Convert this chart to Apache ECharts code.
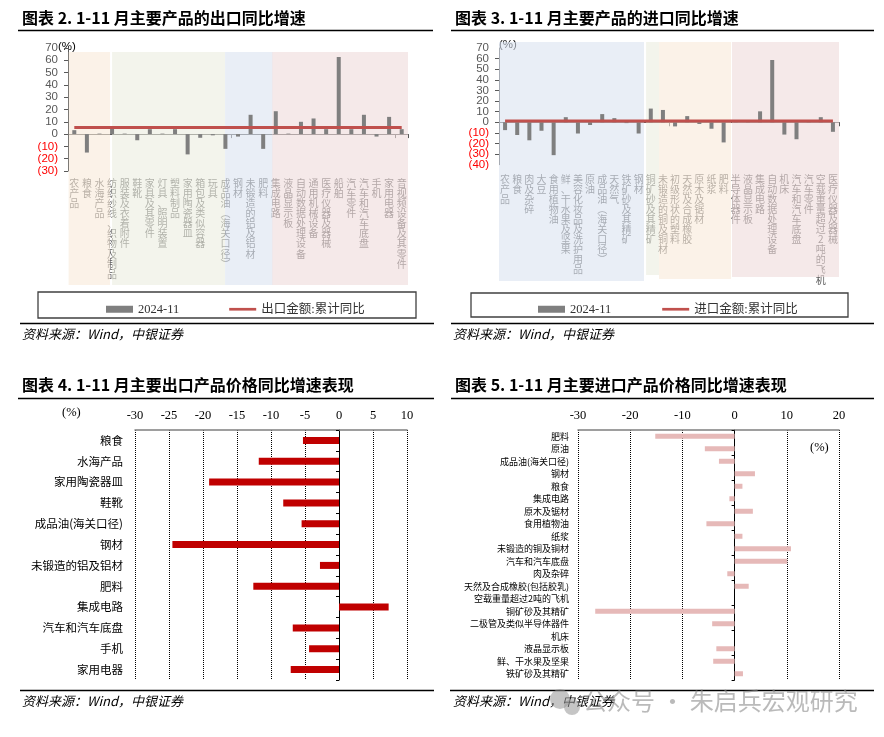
<!DOCTYPE html>
<html><head><meta charset="utf-8">
<script src="https://cdn.jsdelivr.net/npm/echarts@6/dist/echarts.min.js"></script>
<style>html,body{margin:0;padding:0;background:#fff}#c{width:884px;height:737px}</style>
</head><body><div id="c"></div>
<script>
// ---------- data ----------
const exportCats = ['农产品','粮食','水海产品','纺织纱线、织物及制品','服装及衣着附件','鞋靴','家具及其零件','灯具、照明装置','塑料制品','家用陶瓷器皿','箱包及类似容器','玩具','成品油(海关口径)','钢材','未锻造的铝及铝材','肥料','集成电路','液晶显示板','自动数据处理设备','通用机械设备','医疗仪器及器械','船舶','汽车零件','汽车和汽车底盘','手机','家用电器','音视频设备及其零件'];
const exportYoY = [3.2,-15,0.4,5,0.4,-5,4,0.4,4,-16.5,-3,-1,-12,-2,15.7,-12,18.6,0.4,10,12.7,4,62.7,4,15.7,-2,14,4];
const exportCum = [5.4,5.4,5.4,5.4,5.4,5.4,5.4,5.4,5.4,5.4,5.4,5.4,5.4,5.4,5.4,5.4,5.4,5.4,5.4,5.4,5.4,5.4,5.4,5.4,5.4,5.4,5.4];
const exportBands = [[-0.45,2.84],[3.0,11.97],[11.97,15.76],[15.72,26.6]];

const importCats = ['农产品','粮食','肉及杂碎','大豆','食用植物油','鲜、干水果及坚果','美容化妆品及洗护用品','原油','成品油(海关口径)','天然气','铁矿砂及其精矿','钢材','铜矿砂及其精矿','未锻造的铜及铜材','初级形状的塑料','天然及合成橡胶','原木及锯材','纸浆','肥料','半导体器件','液晶显示板','集成电路','自动数据处理设备','机床','汽车和汽车底盘','汽车零件','空载重量超过2吨的飞机','医疗仪器及器械'];
const importYoY = [-7.4,-12,-17,-8,-31,4.8,-10.6,-2.6,7.7,3.9,-0.8,-10.6,12.9,11.6,-3.9,5.8,-1.6,-6.1,-19,0.3,0.3,10.3,58.7,-11.6,-16,0.3,4.8,-9];
const importCum = [1.3,1.3,1.3,1.3,1.3,1.3,1.3,1.3,1.3,1.3,1.3,1.3,1.3,1.3,1.3,1.3,1.3,1.3,1.3,1.3,1.3,1.3,1.3,1.3,1.3,1.3,1.3,1.3];
const importBands = [[-0.5,11.44],[11.61,12.68],[12.68,18.61],[18.69,27.5]];

const exPriceCats = ['粮食','水海产品','家用陶瓷器皿','鞋靴','成品油(海关口径)','钢材','未锻造的铝及铝材','肥料','集成电路','汽车和汽车底盘','手机','家用电器'];
const exPriceVals = [-5.3,-11.8,-19.1,-8.2,-5.5,-24.5,-2.8,-12.6,7.3,-6.8,-4.4,-7.1];

const imPriceCats = ['肥料','原油','成品油(海关口径)','钢材','粮食','集成电路','原木及锯材','食用植物油','纸浆','未锻造的铜及铜材','汽车和汽车底盘','肉及杂碎','天然及合成橡胶(包括胶乳)','空载重量超过2吨的飞机','铜矿砂及其精矿','二极管及类似半导体器件','机床','液晶显示板','鲜、干水果及坚果','铁矿砂及其精矿'];
const imPriceVals = [-15.2,-5.7,-3.0,3.9,1.5,-1.0,3.5,-5.4,1.5,10.8,10.1,-1.4,2.7,0,-26.7,-4.3,0,-3.5,-4.1,1.6];

// ---------- helpers ----------
const CJK = "'Noto Sans CJK SC'";
const vert = s => s.replace(/\(/g,'︵').replace(/\)/g,'︶').split('').join('\n');
const yFmt = v => v < 0 ? '{n|(' + (-v) + ')}' : '{p|' + v + '}';
const cOr = 'rgba(248,233,217,0.6)', cGr = 'rgba(235,237,223,0.6)', cBl = 'rgba(218,227,240,0.6)', cRd = 'rgba(238,218,218,0.6)';
const bandColors = [cOr, cGr, cBl, cRd];
const bandColorsR = [cBl, cGr, cOr, cRd];
const bandBottomsR = [239,233,237,235];

const chart = echarts.init(document.getElementById('c'));

const catLineAxis = (gi, cats) => ({
  type:'category', gridIndex:gi, data:cats, position:'bottom',
  axisLine:{onZero:true, lineStyle:{color:'#595959', width:1}},
  axisTick:{show:true, length:4, lineStyle:{color:'#595959'}},
  axisLabel:{show:false}, splitLine:{show:false}
});
const catLabelAxis = (gi, cats, margin) => ({
  type:'category', gridIndex:gi, data:cats, position:'bottom',
  axisLine:{show:false, onZero:false}, axisTick:{show:false},
  axisLabel:{show:true, interval:0, margin:margin, formatter:vert, fontFamily:CJK, fontSize:10, lineHeight:10.1, color:'#595959', verticalAlign:'top'}
});
const yLabelStyle = {
  fontFamily:'Liberation Sans', fontSize:11.5, color:'#595959', margin:10,
  rich:{n:{color:'#FF0000', fontFamily:'Liberation Sans', fontSize:11.5},
        p:{color:'#595959', fontFamily:'Liberation Sans', fontSize:11.5}}
};
const valYAxis = (gi, mn, mx, showEnds) => ({
  type:'value', gridIndex:gi, min:mn, max:mx, interval:10, position:'left',
  axisLine:{show:true, lineStyle:{color:'#595959'}},
  axisTick:{show:true, length:4, lineStyle:{color:'#595959'}},
  splitLine:{show:false},
  axisLabel:Object.assign({formatter:yFmt, showMinLabel:showEnds, showMaxLabel:showEnds}, yLabelStyle)
});
// labels only for the two end ticks (avoids automatic overlap hiding of the inner ticks)
const endYAxis = (gi, mn, mx) => ({
  type:'value', gridIndex:gi, min:mn, max:mx, interval:10, position:'left',
  axisLine:{show:false, onZero:false}, axisTick:{show:false}, splitLine:{show:false},
  axisLabel:Object.assign({formatter:v => (v === mn || v === mx) ? yFmt(v) : '', showMinLabel:true, showMaxLabel:true}, yLabelStyle)
});
const hidVal = (gi, mn, mx, inv) => ({type:'value', gridIndex:gi, min:mn, max:mx, inverse:!!inv, show:false});
const priceXAxis = (gi, mn, mx, iv) => ({
  type:'value', gridIndex:gi, position:'top', min:mn, max:mx, interval:iv,
  axisLine:{show:true, onZero:false, lineStyle:{color:'#7f7f7f', width:1.5}},
  axisTick:{show:false},
  splitLine:{show:true, lineStyle:{type:'dotted', color:'#000', width:1}},
  axisLabel:{fontFamily:'Liberation Serif', fontSize:12.5, color:'#000', margin:8, showMinLabel:true, showMaxLabel:true}
});
const priceYLine = (gi, cats) => ({
  type:'category', gridIndex:gi, data:cats, inverse:true, position:'left',
  axisLine:{onZero:true, lineStyle:{color:'#000', width:1}},
  axisTick:{show:true, length:3, lineStyle:{color:'#000'}},
  axisLabel:{show:false}
});
const priceYLabel = (gi, cats, fs, margin) => ({
  type:'category', gridIndex:gi, data:cats, inverse:true, position:'left',
  axisLine:{show:false, onZero:false}, axisTick:{show:false},
  axisLabel:{interval:0, fontFamily:CJK, fontSize:fs, color:'#000', margin:margin}
});

const option = {
  animation:false,
  backgroundColor:'#fff',
  grid:[
    {left:68, width:340, top:48, height:123},
    {left:68, width:340, top:52, height:233},
    {left:499, width:340, top:48, height:116.7},
    {left:499, width:340, top:42, height:239},
    {left:135, width:272, top:430, height:250},
    {left:578, width:261, top:430, height:250}
  ],
  xAxis:[
    catLineAxis(0, exportCats),
    catLabelAxis(0, exportCats, 7),
    hidVal(1, -0.5, 26.5),
    catLineAxis(2, importCats),
    catLabelAxis(2, importCats, 9),
    hidVal(3, -0.5, 27.5),
    priceXAxis(4, -30, 10, 5),
    priceXAxis(5, -30, 20, 10)
  ],
  yAxis:[
    valYAxis(0, -30, 70, true),
    hidVal(1, 0, 233, true),
    valYAxis(2, -40, 70, false),
    hidVal(3, 0, 239, true),
    priceYLine(4, exPriceCats),
    priceYLabel(4, exPriceCats, 11.5, 12),
    priceYLine(5, imPriceCats),
    priceYLabel(5, imPriceCats, 9, 9),
    endYAxis(2, -40, 70)
  ],
  legend:[
    {left:101, top:298, itemWidth:27, itemHeight:7, itemGap:50,
      textStyle:{fontFamily:"'Liberation Serif', 'Noto Sans CJK SC'", fontSize:12.5, color:'#333'},
      data:[{name:'2024-11', icon:'rect'}, {name:'出口金额:累计同比', icon:'path://M0,0H30V3H0Z'}]},
    {left:533, top:298, itemWidth:27, itemHeight:7, itemGap:51,
      textStyle:{fontFamily:"'Liberation Serif', 'Noto Sans CJK SC'", fontSize:12.5, color:'#333'},
      data:[{name:'2024-11', icon:'rect'}, {name:'进口金额:累计同比', icon:'path://M0,0H30V3H0Z'}]}
  ],
  series:[
    {type:'bar', name:'2024-11', xAxisIndex:0, yAxisIndex:0, data:exportYoY, barWidth:4, itemStyle:{color:'#7F7F7F'}, z:2},
    {type:'line', name:'出口金额:累计同比', xAxisIndex:0, yAxisIndex:0, data:exportCum, symbol:'none', lineStyle:{color:'#C0504D', width:3}, itemStyle:{color:'#C0504D'}, z:3},
    {type:'line', name:'bgL', xAxisIndex:2, yAxisIndex:1, data:[[0,0]], symbol:'none', lineStyle:{opacity:0}, silent:true, z:10,
      markArea:{silent:true, data: exportBands.map((b,i)=>[{xAxis:b[0], yAxis:0, itemStyle:{color:bandColors[i]}},{xAxis:b[1], yAxis:233}])}},
    {type:'bar', name:'2024-11', xAxisIndex:3, yAxisIndex:2, data:importYoY, barWidth:4, itemStyle:{color:'#7F7F7F'}, z:2},
    {type:'line', name:'进口金额:累计同比', xAxisIndex:3, yAxisIndex:2, data:importCum, symbol:'none', lineStyle:{color:'#C0504D', width:3}, itemStyle:{color:'#C0504D'}, z:3},
    {type:'line', name:'bgR', xAxisIndex:5, yAxisIndex:3, data:[[0,0]], symbol:'none', lineStyle:{opacity:0}, silent:true, z:10,
      markArea:{silent:true, data: importBands.map((b,i)=>[{xAxis:b[0], yAxis:0, itemStyle:{color:bandColorsR[i]}},{xAxis:b[1], yAxis:bandBottomsR[i]}])}},
    {type:'bar', name:'exPrice', xAxisIndex:6, yAxisIndex:4, data:exPriceVals, barWidth:7, itemStyle:{color:'#C00000'}},
    {type:'bar', name:'imPrice', xAxisIndex:7, yAxisIndex:6, data:imPriceVals, barWidth:5, itemStyle:{color:'#E6B9B8'}}
  ],
  graphic:[
    {type:'text', left:22, top:10, style:{text:'图表 2. 1-11 月主要产品的出口同比增速', font:"bold 16px 'Noto Sans CJK SC'", fill:'#000'}},
    {type:'text', left:455, top:10, style:{text:'图表 3. 1-11 月主要产品的进口同比增速', font:"bold 16px 'Noto Sans CJK SC'", fill:'#000'}},
    {type:'text', left:22, top:377, style:{text:'图表 4. 1-11 月主要出口产品价格同比增速表现', font:"bold 16px 'Noto Sans CJK SC'", fill:'#000'}},
    {type:'text', left:455, top:377, style:{text:'图表 5. 1-11 月主要进口产品价格同比增速表现', font:"bold 16px 'Noto Sans CJK SC'", fill:'#000'}},
    {type:'line', shape:{x1:18,y1:30.5,x2:433,y2:30.5}, style:{stroke:'#000', lineWidth:1.3}},
    {type:'line', shape:{x1:451,y1:30.5,x2:874,y2:30.5}, style:{stroke:'#000', lineWidth:1.3}},
    {type:'line', shape:{x1:18,y1:398.5,x2:434,y2:398.5}, style:{stroke:'#000', lineWidth:1.3}},
    {type:'line', shape:{x1:451,y1:398.5,x2:874,y2:398.5}, style:{stroke:'#000', lineWidth:1.3}},
    {type:'rect', shape:{x:38,y:292,width:378,height:26}, style:{fill:'none', stroke:'#404040', lineWidth:1.3}},
    {type:'rect', shape:{x:471,y:293,width:377,height:24}, style:{fill:'none', stroke:'#404040', lineWidth:1.3}},
    {type:'line', shape:{x1:20,y1:323.5,x2:434,y2:323.5}, style:{stroke:'#000', lineWidth:1.3}},
    {type:'line', shape:{x1:451,y1:323.5,x2:874,y2:323.5}, style:{stroke:'#000', lineWidth:1.3}},
    {type:'line', shape:{x1:20,y1:690.5,x2:434,y2:690.5}, style:{stroke:'#000', lineWidth:1.3}},
    {type:'line', shape:{x1:450,y1:690.5,x2:874,y2:690.5}, style:{stroke:'#000', lineWidth:1.3}},
    {type:'text', left:22, top:328, style:{text:'资料来源：Wind，中银证券', font:"italic 13px 'Noto Sans CJK SC'", fill:'#000'}},
    {type:'text', left:453, top:328, style:{text:'资料来源：Wind，中银证券', font:"italic 13px 'Noto Sans CJK SC'", fill:'#000'}},
    {type:'text', left:22, top:695, style:{text:'资料来源：Wind，中银证券', font:"italic 13px 'Noto Sans CJK SC'", fill:'#000'}},
    {type:'text', left:453, top:695, style:{text:'资料来源：Wind，中银证券', font:"italic 13px 'Noto Sans CJK SC'", fill:'#000'}},
    {type:'text', left:58, top:41, style:{text:'(%)', font:"11.5px 'Liberation Sans'", fill:'#000'}},
    {type:'text', left:499, top:39, style:{text:'(%)', font:"11.5px 'Liberation Sans'", fill:'#000'}},
    {type:'text', left:62, top:406, style:{text:'(%)', font:"12.5px 'Liberation Serif'", fill:'#000'}},
    {type:'text', left:810, top:441, style:{text:'(%)', font:"12.5px 'Liberation Serif'", fill:'#000'}},
    {type:'circle', shape:{cx:560, cy:699, r:10}, style:{fill:'rgba(150,150,150,0.55)'}, z:100},
    {type:'circle', shape:{cx:572, cy:707, r:8}, style:{fill:'rgba(150,150,150,0.55)'}, z:100},
    {type:'text', left:583, top:689, z:100, style:{text:'公众号 · 朱启兵宏观研究', font:"24px 'Noto Sans CJK SC'", fill:'rgba(140,140,140,0.6)'}}
  ]
};
chart.setOption(option);
</script>
</body></html>
